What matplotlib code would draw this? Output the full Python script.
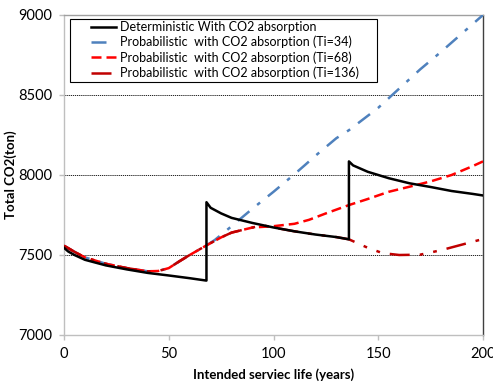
import matplotlib
matplotlib.use("Agg")
import matplotlib.pyplot as plt
from matplotlib.patches import Rectangle

plt.rcParams['font.family'] = ['Lato', 'DejaVu Sans']

det_years = [0, 2, 5, 10, 20, 30, 40, 50, 60, 68, 68, 70, 75, 80, 90, 100, 110, 120, 130, 136,
             136, 138, 145, 155, 165, 175, 185, 195, 200]
det_vals = [7545, 7522, 7500, 7470, 7435, 7410, 7388, 7372, 7355, 7340, 7830, 7795, 7760, 7732,
            7700, 7672, 7648, 7628, 7612, 7598, 8085, 8060, 8020, 7980, 7948, 7925, 7900, 7882, 7872]

ti34_years = [0, 5, 10, 20, 30, 40, 45, 50, 55, 60, 68, 72, 80, 90, 100, 110, 115, 120, 130, 136,
              140, 150, 160, 170, 180, 190, 200]
ti34_vals = [7558, 7520, 7485, 7445, 7418, 7398, 7400, 7418, 7460, 7500, 7560, 7594, 7680, 7790,
             7895, 8005, 8062, 8120, 8230, 8280, 8320, 8420, 8540, 8660, 8770, 8885, 9000]

ti68_years = [0, 5, 10, 20, 30, 40, 45, 50, 55, 60, 68, 75, 80, 90, 100, 110, 117, 125, 136, 145,
              155, 165, 175, 185, 195, 200]
ti68_vals = [7558, 7520, 7485, 7445, 7418, 7398, 7400, 7418, 7460, 7500, 7560, 7610, 7640, 7672,
             7680, 7695, 7720, 7760, 7812, 7850, 7895, 7927, 7960, 8000, 8055, 8085]

ti136_years = [0, 5, 10, 20, 30, 40, 45, 50, 55, 60, 68, 75, 80, 90, 95, 100, 110, 120, 130, 136,
               145, 152, 160, 170, 180, 190, 200]
ti136_vals = [7558, 7520, 7485, 7445, 7418, 7398, 7400, 7418, 7460, 7500, 7560, 7610, 7640, 7672,
              7685, 7672, 7648, 7628, 7612, 7598, 7545, 7512, 7500, 7502, 7530, 7565, 7600]

labels = ["Deterministic With CO2 absorption",
          "Probabilistic  with CO2 absorption (Ti=34)",
          "Probabilistic  with CO2 absorption (Ti=68)",
          "Probabilistic  with CO2 absorption (Ti=136)"]

W, H = 493, 385
fig = plt.figure(figsize=(W / 100, H / 100), dpi=100)
ax = fig.add_axes([64 / W, 50 / H, 419 / W, 320 / H])

ax.plot(det_years, det_vals, color='black', lw=1.8, label=labels[0], zorder=5)
ax.plot(ti34_years, ti34_vals, color='#4F81BD', lw=1.8, dashes=(6, 4, 1.5, 4), label=labels[1], zorder=3)
ax.plot(ti68_years, ti68_vals, color='#FF0000', lw=1.8, dashes=(4, 2), label=labels[2], zorder=4)
ax.plot(ti136_years, ti136_vals, color='#C00000', lw=1.8, dashes=(8, 4, 1.5, 4, 1.5, 4), label=labels[3], zorder=4)

ax.set_xlim(0, 200)
ax.set_ylim(7000, 9000)
ax.set_xticks([0, 50, 100, 150, 200])
ax.set_yticks([7000, 7500, 8000, 8500, 9000])
for yv in [7500, 8000, 8500]:
    ax.axhline(yv, color='black', lw=0.6, ls=(0, (1.5, 1)), zorder=1)

ax.spines['left'].set_color('#BFBFBF')
ax.spines['bottom'].set_color('#BFBFBF')
ax.spines['top'].set_color('#A0A0A0')
ax.spines['right'].set_color('#404040')
for s in ax.spines.values():
    s.set_linewidth(1.0)
ax.tick_params(axis='both', colors='#BFBFBF', labelcolor='black', labelsize=10.5, length=3.5, width=1)
ax.tick_params(axis='y', pad=5)
ax.tick_params(axis='x', pad=5)

ax.set_xlabel("Intended serviec life (years)", fontsize=9.5, fontweight='bold')
ax.set_ylabel("Total CO2(ton)", fontsize=9.5, fontweight='bold')
ax.xaxis.set_label_coords(0.5, (335 - 368) / 320, transform=ax.transAxes)
ax.yaxis.set_label_coords((17 - 64) / 419, 0.5, transform=ax.transAxes)

# legend: text rows, then a frame drawn around them
leg = ax.legend(loc='upper left', bbox_to_anchor=((91 - 64) / 419, (335 - 21) / 320), fontsize=9,
                frameon=False, handlelength=2.0, borderpad=0.0,
                labelspacing=0.22, handletextpad=0.35, borderaxespad=0)
leg.set_zorder(10)
fig.patches.append(Rectangle((70 / W, (H - 82) / H), (377 - 70) / W, (82 - 19) / H,
                             transform=fig.transFigure, facecolor='white', edgecolor='black',
                             lw=0.8, zorder=0))
ax.set_zorder(1)
ax.patch.set_visible(False)

fig.savefig("out.png", dpi=100)
